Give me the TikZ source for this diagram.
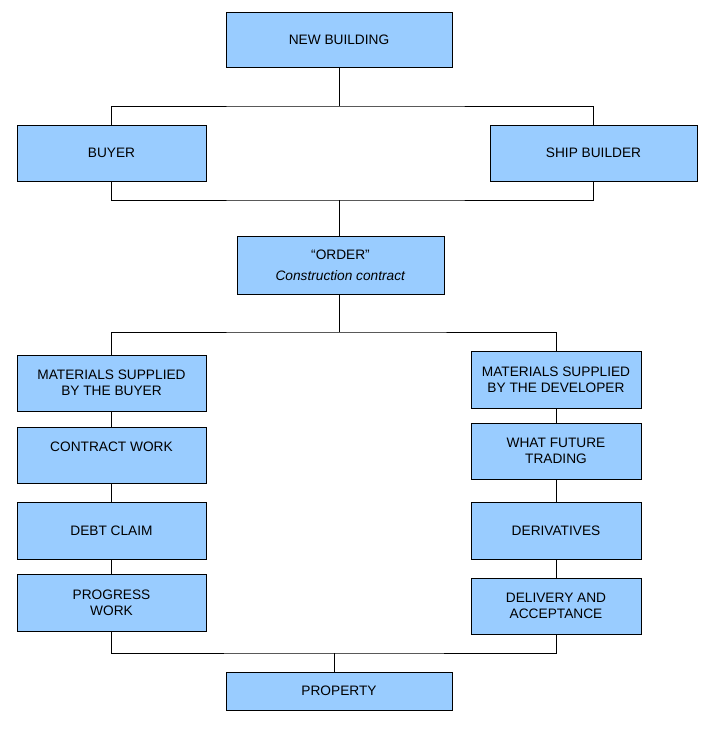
\documentclass[tikz,border=0pt]{standalone}
\usepackage{fontspec}
\setmainfont{Liberation Sans}
\definecolor{boxblue}{HTML}{99CCFF}
\tikzset{
  stage/.style={draw=black, fill=boxblue, line width=0.8pt, align=center,
    inner sep=0pt, minimum height=56pt,
    font=\fontsize{13.7}{15.7}\selectfont},
  link/.style={draw=black, line width=0.8pt}
}
\begin{document}
\begin{tikzpicture}[x = {(1pt,0pt)},
  y = {(0pt,-1pt)},
  scale = 1]

  \useasboundingbox (0,0) rectangle (711,742);

  \def\lx{111.5}
  \def\rx{556}

  % top level
  \node[stage, minimum width=226pt, minimum height=55pt] (newbuilding) at (339,39.5) {NEW BUILDING};
  \node[stage, minimum width=189pt] (buyer) at (\lx,153) {BUYER};
  \node[stage, minimum width=207pt] (shipbuilder) at (593.5,153) {SHIP BUILDER};
  \node[stage, minimum width=207pt, minimum height=58pt] (order) at (340.5,265)
    {``ORDER''\\[5pt] \textit{Construction contract}};

  % left column
  \node[stage, minimum width=189pt] (matbuyer) at (\lx,383) {MATERIALS SUPPLIED\\BY THE BUYER};
  \node[stage, minimum width=189pt] (contract) at (\lx,455) {CONTRACT WORK\\\mbox{}};
  \node[stage, minimum width=189pt, minimum height=57pt] (debt) at (\lx,530.5) {DEBT CLAIM};
  \node[stage, minimum width=189pt, minimum height=57pt] (progress) at (\lx,602.5) {PROGRESS\\WORK};

  % right column
  \node[stage, minimum width=170pt, minimum height=57pt] (matdev) at (\rx,379.5) {MATERIALS SUPPLIED\\BY THE DEVELOPER};
  \node[stage, minimum width=170pt] (future) at (\rx,451) {WHAT FUTURE\\TRADING};
  \node[stage, minimum width=170pt, minimum height=57pt] (deriv) at (\rx,530.5) {DERIVATIVES};
  \node[stage, minimum width=170pt] (delivery) at (\rx,606) {DELIVERY AND\\ACCEPTANCE};

  \node[stage, minimum width=226pt, minimum height=38pt] (property) at (339,691) {PROPERTY};

  % branch points
  \coordinate (partysplit) at (339,106);
  \coordinate (partyjoin) at (339,200);
  \coordinate (ordersplit) at (339,332);
  \coordinate (finaljoin) at (334,653);

  % connectors
  \draw[link] (newbuilding) -- (partysplit);
  \draw[link] (buyer.north) |- (partysplit) -| (shipbuilder.north);
  \draw[link] (buyer.south) |- (partyjoin) -| (shipbuilder.south);
  \draw[link] (partyjoin) -- (partyjoin |- order.north);
  \draw[link] (order.south -| ordersplit) -- (ordersplit);
  \draw[link] (matbuyer.north) |- (ordersplit) -| (matdev.north);

  \foreach \a/\b in {matbuyer/contract, contract/debt, debt/progress,
    matdev/future, future/deriv, deriv/delivery}
  \draw[link] (\a) -- (\b);

  \draw[link] (progress.south) |- (finaljoin) -| (delivery.south);
  \draw[link] (finaljoin) -- (finaljoin |- property.north);
\end{tikzpicture}
\end{document}
